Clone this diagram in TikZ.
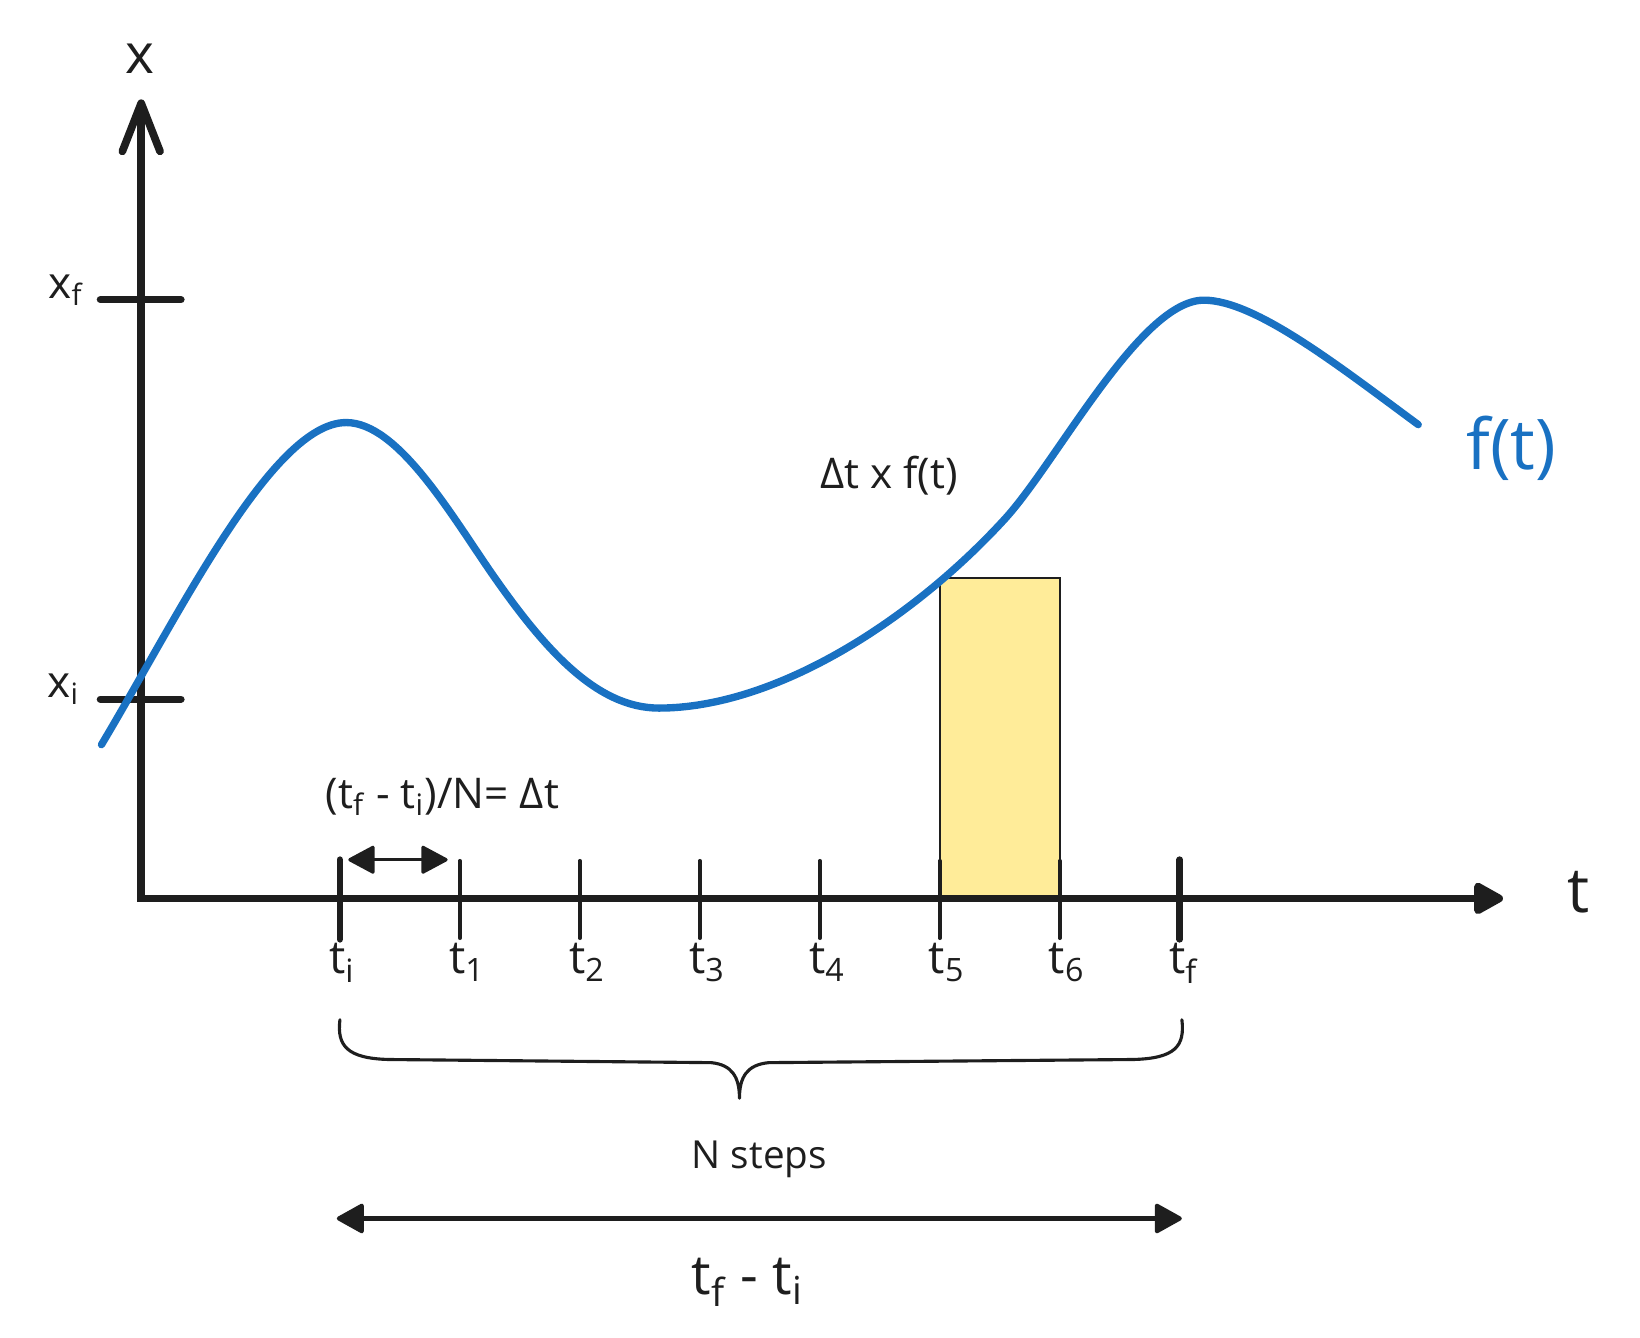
\documentclass[tikz,border=0pt]{standalone}
\usepackage{fontspec}
\setmainfont{Open Sans}
\usetikzlibrary{arrows.meta}
\definecolor{ink}{HTML}{1E1E1E}
\definecolor{fblue}{HTML}{1971C2}
\definecolor{fyellow}{HTML}{FFEC99}
\newcommand\sbx[1]{\textsubscript{#1}}
\begin{document}
\begin{tikzpicture}[x=0.01cm,y=-0.01cm,
  axisline/.style={line width=2.1pt, draw=ink, line join=miter},
  ytick/.style={line width=2pt, draw=ink, line cap=round},
  thicktick/.style={line width=1.85pt, draw=ink, line cap=round},
  thintick/.style={line width=1pt, draw=ink, line cap=round},
  fcurve/.style={line width=2pt, draw=fblue, line cap=round, line join=round},
  area/.style={fill=fyellow, draw=ink, line width=0.6pt},
  brace/.style={line width=0.85pt, draw=ink, line cap=round, line join=round},
  small arrow/.style={line width=0.9pt, draw=ink, {Triangle[length=2.7mm,width=2.8mm,round]}-{Triangle[length=2.7mm,width=2.8mm,round]}},
  span arrow/.style={line width=1.1pt, draw=ink, {Triangle[length=2.8mm,width=3mm,round]}-{Triangle[length=2.8mm,width=3mm,round]}},
  lbl/.style={inner sep=0pt, text=ink},
  ticklbl/.style={lbl, font=\fontsize{12.5}{15}\selectfont, anchor=base west}
]
\useasboundingbox (0,0) rectangle (1568,1279);

% named points
\coordinate (top) at (135,95);
\coordinate (origin) at (135,859);
\coordinate (tend) at (1437,859);

% yellow strip between t5 and t6
\draw[area] (898.5,553) rectangle (1013.2,859);

% axes
\draw[axisline, {Straight Barb[length=4.6mm,width=3.6mm,round]}-{Triangle[length=3.2mm,width=3.3mm,round]}]
  (top) -- (origin) -- (tend);

% ticks on the vertical axis
\draw[ytick] (96,286.5) -- (173,286.5);
\draw[ytick] (96,668.5) -- (173,668.5);
\node[lbl, font=\fontsize{12}{14}\selectfont, anchor=base] (lxf) at (63,285) {x\sbx{f}};
\node[lbl, font=\fontsize{12}{14}\selectfont, anchor=base] (lxi) at (61,667) {x\sbx{i}};

% t ticks
\draw[thicktick] (325,822) -- (325,898);
\draw[thicktick] (1128,822) -- (1128,898);
\foreach \k/\xx in {1/439.7,2/554.4,3/669.1,4/783.8,5/898.5,6/1013.2} {
  \draw[thintick] (\xx,823) -- (\xx,897);
  \node[ticklbl] (lt\k) at ({\xx-11},931) {t\sbx{\k}};
}
\node[ticklbl] (lti) at (314,931) {t\sbx{i}};
\node[ticklbl] (ltf) at (1117,931) {t\sbx{f}};

% axis labels
\node[lbl, font=\fontsize{15}{18}\selectfont] (lx) at (134,56) {x};
\node[lbl, font=\fontsize{17}{20}\selectfont, anchor=base] (lt) at (1509,872) {t};

% the function
\draw[fcurve] (97,712) .. controls (170,590) and (260,404) .. (331,404)
  .. controls (380,404) and (430,490) .. (470,548)
  .. controls (520,620) and (570,677) .. (630,677)
  .. controls (740,677) and (870,595) .. (960,497)
  .. controls (1010,443) and (1090,287) .. (1151,287)
  .. controls (1200,287) and (1280,350) .. (1356,406);
\node[lbl, text=fblue, font=\fontsize{19}{22}\selectfont, anchor=base] (lf) at (1445,449) {f(t)};

% labels
\node[lbl, font=\fontsize{11.5}{14}\selectfont, anchor=base] (larea) at (850,467) {Δt x f(t)};
\node[lbl, font=\fontsize{11.5}{14}\selectfont, anchor=base] (ldt) at (423,773) {(t\sbx{f} - t\sbx{i})/N= Δt};

% small step arrow
\coordinate (sa1) at (333,822);
\coordinate (sa2) at (428,822);
\draw[small arrow] (sa1) -- (sa2);

% brace
\coordinate (b1) at (325,975);
\coordinate (b2) at (1130,975);
\coordinate (btip) at (707,1050);
\draw[brace] (b1) .. controls (322,1000) and (332,1012) .. (372,1013)
  -- (680,1016) .. controls (700,1018) and (707,1030) .. (btip)
  .. controls (707,1030) and (714,1018) .. (735,1016)
  -- (1083,1013) .. controls (1124,1012) and (1133,1000) .. (b2);
\node[lbl, font=\fontsize{10.5}{13}\selectfont, anchor=base] (lsteps) at (726,1117) {N steps};

% span arrow
\coordinate (s1) at (322,1165);
\coordinate (s2) at (1130,1165);
\draw[span arrow] (s1) -- (s2);
\node[lbl, font=\fontsize{15}{18}\selectfont, anchor=base] (lspan) at (715,1238) {t\sbx{f} - t\sbx{i}};
\end{tikzpicture}
\end{document}
